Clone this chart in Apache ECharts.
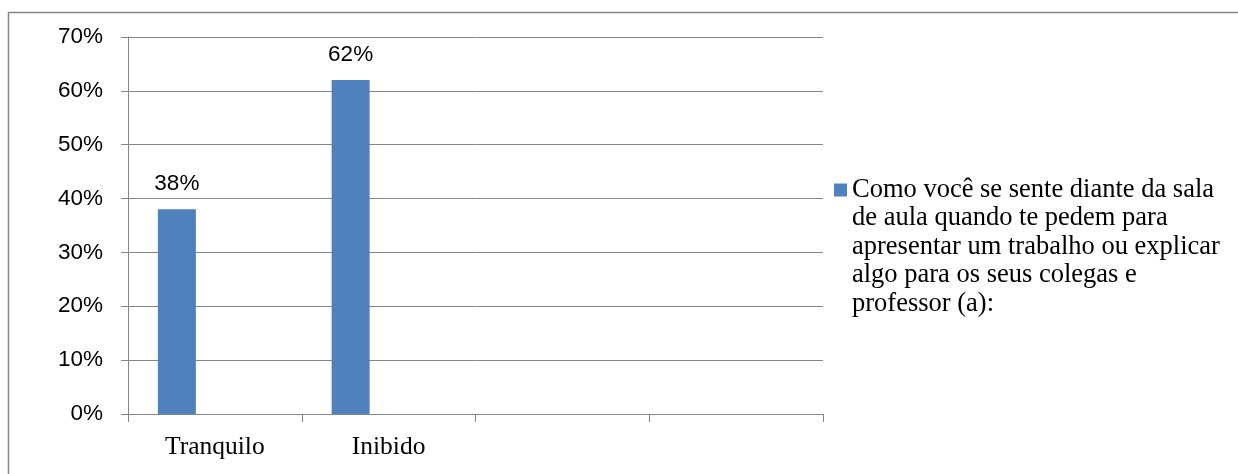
<!DOCTYPE html>
<html>
<head>
<meta charset="utf-8">
<script src="https://cdn.jsdelivr.net/npm/echarts@6/dist/echarts.min.js"></script>
<style>
  html, body { margin: 0; padding: 0; background: #ffffff; }
  #chart { width: 1238px; height: 474px; }
</style>
</head>
<body>
<div id="chart"></div>
<script>
// Survey answers (percent of respondents)
const categories = ['Tranquilo', 'Inibido', '', ''];
const answerValues = [38, 62];

// Question text, broken into the lines shown in the legend
const questionLines = [
  'Como você se sente diante da sala',
  'de aula quando te pedem para',
  'apresentar um trabalho ou explicar',
  'algo para os seus colegas e',
  'professor (a):'
];

// Value axis ticks (percent)
const yMin = 0;
const yMax = 70;
const yStep = 10;

const questionName = questionLines.join('\n');
const gridColor = '#868686';
const barColor = '#4F81BD';
const legendLineHeight = 28.5;
const legendMarkerCenterY = 190;

// The legend centres its text on the marker; blank lines above the
// question keep its first line level with the marker.
const blankLinesAbove = questionLines.length - 1;
const legendBlockLines = blankLinesAbove + questionLines.length;

const chart = echarts.init(document.getElementById('chart'), null, { renderer: 'canvas' });

chart.setOption({
  animation: false,
  backgroundColor: '#ffffff',
  graphic: [{
    type: 'rect',
    shape: { x: 8.5, y: 12.5, width: 1240, height: 470 },
    style: { fill: 'none', stroke: gridColor, lineWidth: 1.5 },
    silent: true
  }],
  grid: { left: 128, right: 415, top: 37, bottom: 60, containLabel: false },
  legend: {
    data: [questionName],
    orient: 'vertical',
    left: 834,
    top: legendMarkerCenterY - legendBlockLines * legendLineHeight / 2,
    padding: 0,
    itemWidth: 13,
    itemHeight: 13,
    icon: 'rect',
    selectedMode: false,
    formatter: function (name) {
      return '\n'.repeat(blankLinesAbove) + name;
    },
    textStyle: {
      fontFamily: '"Liberation Serif", "Times New Roman", serif',
      fontSize: 26.5,
      color: '#000000',
      lineHeight: legendLineHeight
    }
  },
  xAxis: {
    type: 'category',
    data: categories,
    boundaryGap: true,
    axisLine: { show: true, lineStyle: { color: gridColor, width: 1 } },
    axisTick: { show: true, length: 8, lineStyle: { color: gridColor, width: 1 } },
    axisLabel: {
      color: '#000000',
      fontFamily: '"Liberation Serif", "Times New Roman", serif',
      fontSize: 25.5,
      margin: 20,
      interval: 0
    },
    splitLine: { show: false }
  },
  yAxis: {
    type: 'value',
    min: yMin,
    max: yMax,
    interval: yStep,
    axisLine: { show: true, lineStyle: { color: gridColor, width: 1 } },
    axisTick: { show: true, length: 7, lineStyle: { color: gridColor, width: 1 } },
    axisLabel: {
      color: '#000000',
      fontFamily: '"Liberation Sans", Arial, sans-serif',
      fontSize: 22.5,
      margin: 25,
      formatter: '{value}%'
    },
    splitLine: { show: true, lineStyle: { color: gridColor, width: 1 } }
  },
  series: [
    {
      name: questionName,
      type: 'bar',
      data: answerValues,
      barWidth: 38,
      barGap: '0%',
      itemStyle: { color: barColor },
      label: {
        show: true,
        position: 'top',
        distance: 14,
        formatter: '{c}%',
        color: '#000000',
        fontFamily: '"Liberation Sans", Arial, sans-serif',
        fontSize: 22.5
      }
    },
    // empty slots that share each category cluster with the answered bar
    { name: 'slot2', type: 'bar', data: [], barWidth: 38, barGap: '0%' },
    { name: 'slot3', type: 'bar', data: [], barWidth: 38, barGap: '0%' }
  ]
});
</script>
</body>
</html>
